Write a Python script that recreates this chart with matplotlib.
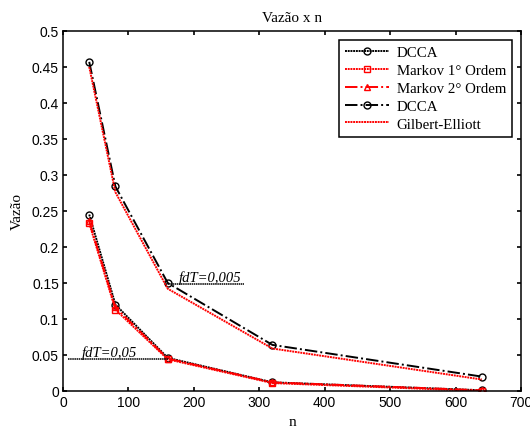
import numpy as np
import matplotlib
matplotlib.use('Agg')
import matplotlib.pyplot as plt

n = [40, 80, 160, 320, 640]
dcca_low = [0.245, 0.120, 0.046, 0.012, 0.001]
markov1 = [0.233, 0.113, 0.044, 0.011, 0.000]
markov2 = [0.236, 0.116, 0.045, 0.012, 0.001]
dcca_high = [0.457, 0.284, 0.150, 0.064, 0.020]
gilbert = [0.450, 0.276, 0.142, 0.059, 0.016]

serif = ['Liberation Serif', 'DejaVu Serif']
sans = ['Liberation Sans', 'DejaVu Sans']

fig = plt.figure(figsize=(5.30, 4.31), dpi=100)
ax = fig.add_axes([0.119, 0.0905, 0.864, 0.8355])

dot = (0, (1.0, 0.4))
ms = 5
ax.plot(n, dcca_low, color='black', linestyle=dot, lw=1.4, marker='o',
        markersize=ms, markerfacecolor='none', label='DCCA')
ax.plot(n, markov1, color='red', linestyle=dot, lw=1.4, marker='s',
        markersize=ms, markerfacecolor='none', label='Markov 1° Ordem')
ax.plot(n, markov2, color='red', linestyle='-.', lw=1.4, marker='^',
        markersize=ms, markerfacecolor='none', label='Markov 2° Ordem')
ax.plot(n, dcca_high, color='black', linestyle='-.', lw=1.4, marker='o',
        markersize=ms, markerfacecolor='none', label='DCCA')
ax.plot(n, gilbert, color='red', linestyle=dot, lw=1.4, label='Gilbert-Elliott')

# annotations
ax.plot([158, 277], [0.148, 0.148], color='black', linestyle=dot, lw=1.1)
ax.text(177, 0.153, 'fdT=0,005', fontstyle='italic', fontsize=10.5, family=serif)
ax.plot([8, 160], [0.044, 0.044], color='black', linestyle=dot, lw=1.1)
ax.text(29, 0.049, 'fdT=0,05', fontstyle='italic', fontsize=10.5, family=serif)

ax.set_xlim(0, 700)
ax.set_ylim(0, 0.5)
ax.set_xticks(np.arange(0, 701, 100))
ax.set_yticks(np.arange(0, 0.51, 0.05))
ax.set_yticklabels(['0', '0.05', '0.1', '0.15', '0.2', '0.25', '0.3',
                    '0.35', '0.4', '0.45', '0.5'])
ax.tick_params(direction='in', top=True, right=True, length=3, width=1.2,
               labelsize=10, pad=3)
for lab in ax.get_xticklabels() + ax.get_yticklabels():
    lab.set_family(sans)
for s in ax.spines.values():
    s.set_linewidth(1.1)

ax.set_title('Vazão x n', fontsize=11, family=serif, pad=7)
ax.set_xlabel('n', fontsize=11, family=serif, labelpad=4)
ax.set_ylabel('Vazão', fontsize=11, family=serif, labelpad=6)

leg = ax.legend(loc='upper right', prop={'family': serif, 'size': 10.7},
                fancybox=False, framealpha=1, edgecolor='black', numpoints=1,
                handlelength=3.0, handletextpad=0.5, borderaxespad=0.6,
                labelspacing=0.3, borderpad=0.4)
leg.get_frame().set_linewidth(1.1)

fig.savefig('out.png', dpi=100)
